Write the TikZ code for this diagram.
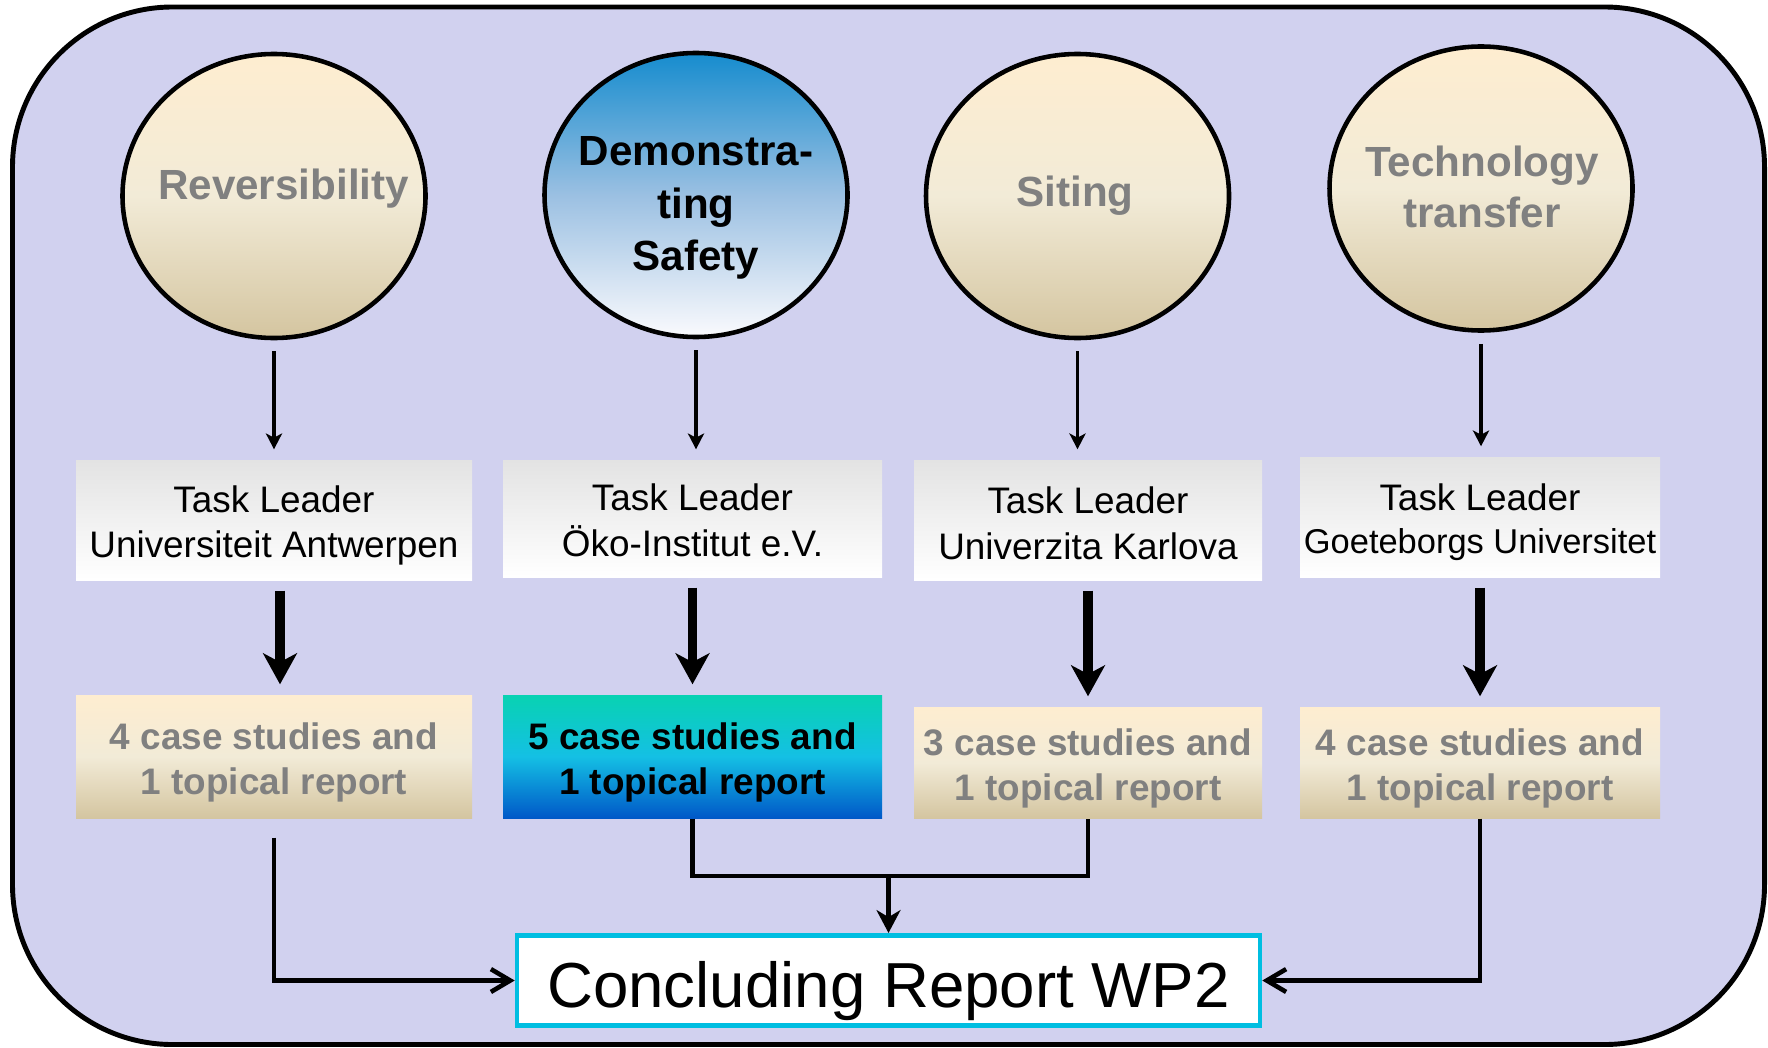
\documentclass[tikz,border=0pt]{standalone}
\usepackage{fontspec}
\setmainfont{Liberation Sans}
\usetikzlibrary{shapes.geometric,arrows.meta}

\definecolor{panelbg}{RGB}{209,209,239}
\definecolor{topicgrey}{RGB}{128,128,128}
\definecolor{creamtop}{RGB}{254,237,208}
\definecolor{creammid}{RGB}{242,235,215}
\definecolor{creambot}{RGB}{212,197,160}
\definecolor{concblue}{RGB}{0,190,225}

\begin{document}
\begin{tikzpicture}[
  topic/.style={ellipse,draw=black,line width=1.3pt,minimum width=3.03cm,minimum height=2.84cm,inner sep=0pt,
    top color=creamtop,bottom color=creambot,middle color=creammid},
  topictext/.style={font=\fontsize{12}{14.9}\selectfont\bfseries,text=topicgrey,align=center},
  leader/.style={inner sep=0pt,top color=black!11,bottom color=white},
  leadtext/.style={align=center,font=\fontsize{10.5}{13}\selectfont},
  result/.style={inner sep=0pt,top color=creamtop,bottom color=creambot,middle color=creammid},
  resulttext/.style={align=center,text=topicgrey,font=\fontsize{10.5}{12.8}\selectfont\bfseries},
  thinarr/.style={-{Stealth[length=4.5pt,width=4.6pt,inset=1.2pt]},line width=1pt,shorten <=1.1mm,shorten >=1mm},
  thickarr/.style={-{Stealth[length=8.8pt,width=9.6pt,inset=2.5pt]},line width=2.8pt,shorten <=1mm,shorten >=1mm},
  link/.style={line width=1.3pt}
]
  \useasboundingbox (0,0) rectangle (17.68,10.47);

  % Background panel
  \draw[line width=1.4pt,fill=panelbg,rounded corners=1.6cm] (0.125,0.025) rectangle (17.645,10.40);

  % Topic ellipses
  \node[topic] (rev) at (2.74,8.51) {};
  \node[topic,top color={rgb,255:red,22;green,140;blue,206},bottom color={rgb,255:red,250;green,250;blue,253},
    middle color={rgb,255:red,155;green,192;blue,226}] (demo) at (6.96,8.52) {};
  \node[topic] (site) at (10.775,8.51) {};
  \node[topic] (tech) at (14.81,8.585) {};

  \node[topictext] (revtxt) at (2.836,8.58) {Reversibility};
  \node[topictext,text=black] (demotxt) at (6.96,8.39) {Demonstra-\\ting\\Safety};
  \node[topictext] (sitetxt) at (10.75,8.51) {Siting};
  \node[topictext,font=\fontsize{12}{14.4}\selectfont\bfseries] (techtxt) at (14.82,8.60) {Technology\\transfer};

  % Task leaders
  \node[leader,minimum width=3.96cm,minimum height=1.20cm] (lead1) at (2.74,5.27) {};
  \node[leader,minimum width=3.79cm,minimum height=1.17cm] (lead2) at (6.925,5.285) {};
  \node[leader,minimum width=3.48cm,minimum height=1.20cm] (lead3) at (10.88,5.27) {};
  \node[leader,minimum width=3.60cm,minimum height=1.20cm] (lead4) at (14.80,5.30) {};

  \node[leadtext] (lead1txt) at ([yshift=-0.55mm]lead1.center) {Task Leader\\Universiteit Antwerpen};
  \node[leadtext] (lead2txt) at ([yshift=-0.2mm]lead2.center) {Task Leader\\Öko-Institut e.V.};
  \node[leadtext] (lead3txt) at ([yshift=-0.3mm]lead3.center) {Task Leader\\Univerzita Karlova};
  \node[leadtext,font=\fontsize{10.5}{12.2}\selectfont] (lead4txt) at ([yshift=-0.5mm]lead4.center)
    {Task Leader\\{\fontsize{9.8}{12.2}\selectfont Goeteborgs Universitet}};

  % Case study results
  \node[result,minimum width=3.96cm,minimum height=1.23cm] (case1) at (2.74,2.905) {};
  \node[result,minimum width=3.79cm,minimum height=1.23cm,
    top color={rgb,255:red,8;green,210;blue,178},bottom color={rgb,255:red,0;green,88;blue,200},
    middle color={rgb,255:red,20;green,192;blue,228}] (case2) at (6.925,2.905) {};
  \node[result,minimum width=3.48cm,minimum height=1.11cm] (case3) at (10.88,2.845) {};
  \node[result,minimum width=3.60cm,minimum height=1.11cm] (case4) at (14.80,2.845) {};

  \node[resulttext] (case1txt) at ([yshift=-0.55mm]case1.center) {4 case studies and\\1 topical report};
  \node[resulttext,text=black] (case2txt) at ([yshift=-0.55mm]case2.center) {5 case studies and\\1 topical report};
  \node[resulttext] (case3txt) at ([yshift=-0.55mm]case3.center) {3 case studies and\\1 topical report};
  \node[resulttext] (case4txt) at ([yshift=-0.55mm]case4.center) {4 case studies and\\1 topical report};

  % Final report
  \node[draw=concblue,line width=1.3pt,fill=white,minimum width=7.43cm,minimum height=0.905cm,inner sep=0pt,
    text height=15.5pt,text depth=0pt,font=\fontsize{18.1}{20}\selectfont] (conc) at (8.885,0.665) {Concluding Report WP2};

  % Arrows topic -> leader
  \draw[thinarr] (rev.south) -- (rev.south |- lead1.north);
  \draw[thinarr] (demo.south) -- (demo.south |- lead2.north);
  \draw[thinarr] (site.south) -- (site.south |- lead3.north);
  \draw[thinarr] (tech.south) -- (tech.south |- lead4.north);

  % Arrows leader -> results
  \draw[thickarr] ([xshift=0.6mm]lead1.south) -- ([xshift=0.6mm]case1.north);
  \draw[thickarr] (lead2.south) -- (case2.north);
  \draw[thickarr] (lead3.south) -- (case3.north);
  \draw[thickarr] (lead4.south) -- (case4.north);

  % Results -> concluding report
  \coordinate (join) at (8.885,1.71);
  \draw[link,-{Straight Barb[length=5.5pt,width=6.5pt]}] ([yshift=-1.9mm]case1.south) |- (conc.west);
  \draw[link] (case2.south) |- (join) -| (case3.south);
  \draw[link,-{Stealth[length=6.5pt,width=6.8pt,inset=2pt]}] (join) -- (conc.north);
  \draw[link,-{Straight Barb[length=5.5pt,width=6.5pt]}] (case4.south) |- (conc.east);
\end{tikzpicture}
\end{document}
